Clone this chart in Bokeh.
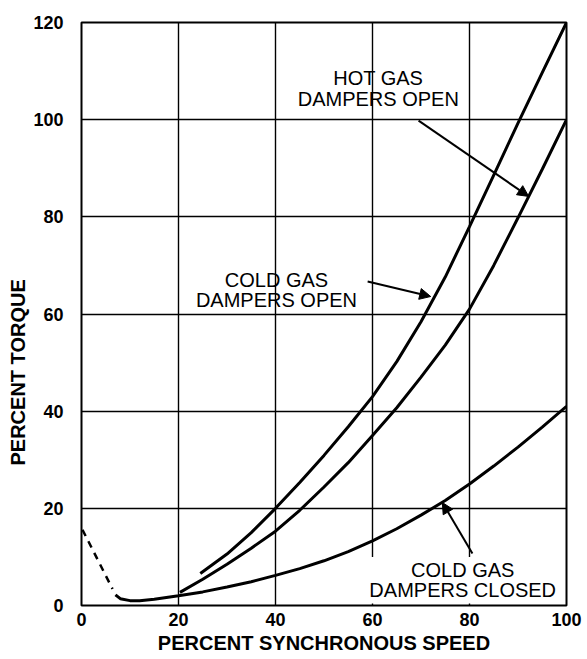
from bokeh.plotting import figure
from bokeh.models import Range1d, Arrow, NormalHead, BoxAnnotation, Title, FixedTicker
from bokeh.core.properties import value
from bokeh.embed import file_html
from bokeh.resources import INLINE

# ---- data ----
cold_open_x = [24.5, 30, 35, 40, 45, 50, 55, 60, 65, 70, 75, 80, 85, 90, 95, 100]
cold_open_y = [6.6, 10.6, 15.0, 20.0, 25.3, 30.9, 36.8, 43.0, 50.2, 58.4, 67.6, 78.0, 88.6, 99.3, 109.7, 120]

hot_open_x = [20.3, 25, 30, 35, 40, 45, 50, 55, 60, 65, 70, 75, 80, 85, 90, 95, 100]
hot_open_y = [2.7, 5.4, 8.5, 11.8, 15.3, 19.6, 24.4, 29.4, 35.0, 40.7, 47.0, 53.6, 61.0, 70.0, 79.8, 89.8, 100]

closed_x = [7, 8, 10, 12, 15, 20, 25, 30, 35, 40, 45, 50, 55, 60, 65, 70, 75, 80, 85, 90, 95, 100]
closed_y = [2.2, 1.4, 1.0, 1.0, 1.3, 2.0, 2.8, 3.8, 4.9, 6.2, 7.6, 9.2, 11.1, 13.3, 15.8, 18.6, 21.6, 25.0, 28.7, 32.6, 36.7, 41]

dashed_x = [0.2, 6.4]
dashed_y = [15.6, 3.4]

x_ticks = [0, 20, 40, 60, 80, 100]
y_ticks = [0, 20, 40, 60, 80, 100, 120]

# annotation texts
label_lines = ["HOT GAS", "DAMPERS OPEN", "COLD GAS", "DAMPERS OPEN", "COLD GAS", "DAMPERS CLOSED"]
label_x = [61.2, 61.2, 40.2, 40.2, 78.6, 78.6]
label_y = [108.5, 104.2, 67.1, 62.8, 7.4, 3.1]

# arrows: (x_start, y_start, x_end, y_end)
arrows = [
    (69.5, 99.8, 92.2, 84.2),
    (59.0, 66.7, 72.0, 63.6),
    (80.6, 10.7, 74.4, 21.2),
]

FONT = "Liberation Sans"

p = figure(width=587, height=659, output_backend="svg", toolbar_location=None,
           x_range=Range1d(0, 100), y_range=Range1d(0, 120),
           min_border_left=81, min_border_right=21, min_border_top=22, min_border_bottom=54)

p.outline_line_color = "black"
p.outline_line_width = 2
p.outline_line_alpha = 1
p.background_fill_color = "white"
p.border_fill_color = "white"

for ax in (p.xaxis[0], p.yaxis[0]):
    ax.axis_line_color = None
    ax.major_tick_line_color = None
    ax.minor_tick_line_color = None
    ax.major_tick_out = 0
    ax.major_tick_in = 0
    ax.minor_tick_out = 0
    ax.major_label_text_font = FONT
    ax.major_label_text_font_style = "bold"
    ax.major_label_text_font_size = "18px"
    ax.major_label_text_color = "black"

p.xaxis[0].ticker = FixedTicker(ticks=x_ticks)
p.yaxis[0].ticker = FixedTicker(ticks=y_ticks)
p.xaxis[0].major_label_standoff = 7
p.yaxis[0].major_label_standoff = 18

p.xaxis[0].axis_label = "PERCENT SYNCHRONOUS SPEED"
p.xaxis[0].axis_label_text_font = FONT
p.xaxis[0].axis_label_text_font_style = "bold"
p.xaxis[0].axis_label_text_font_size = "20px"
p.xaxis[0].axis_label_text_color = "black"
p.xaxis[0].axis_label_standoff = 3

p.xgrid[0].ticker = FixedTicker(ticks=x_ticks)
p.ygrid[0].ticker = FixedTicker(ticks=y_ticks)
for g in (p.xgrid[0], p.ygrid[0]):
    g.grid_line_color = "black"
    g.grid_line_width = 1.4
    g.grid_line_alpha = 1

# y axis title placed as a side title (shifted down like the reference)
p.add_layout(Title(text="PERCENT TORQUE", align="left", offset=140, text_font=FONT,
                   text_font_style="bold", text_font_size="20px", text_color="black",
                   standoff=4), "left")

# white box behind the "closed" label, covering grid
box = BoxAnnotation(left=56.5, right=99.6, bottom=0.4, top=10.0,
                    fill_color="white", fill_alpha=1, line_color=None, level="underlay")
p.add_layout(box)

# curves
p.line(cold_open_x, cold_open_y, line_color="black", line_width=3)
p.line(hot_open_x, hot_open_y, line_color="black", line_width=3)
p.line(closed_x, closed_y, line_color="black", line_width=3)
p.line(dashed_x, dashed_y, line_color="black", line_width=2.5, line_dash="7 6")

# annotation texts
p.text(x=label_x, y=label_y, text=label_lines, text_font=value(FONT),
       text_font_size="20px", text_align="center", text_baseline="middle", text_color="black")

for xs, ys, xe, ye in arrows:
    p.add_layout(Arrow(end=NormalHead(size=11, fill_color="black", line_color="black", line_width=1),
                       x_start=xs, y_start=ys, x_end=xe, y_end=ye,
                       line_color="black", line_width=2))

open("out.html", "w").write(file_html(p, INLINE))
